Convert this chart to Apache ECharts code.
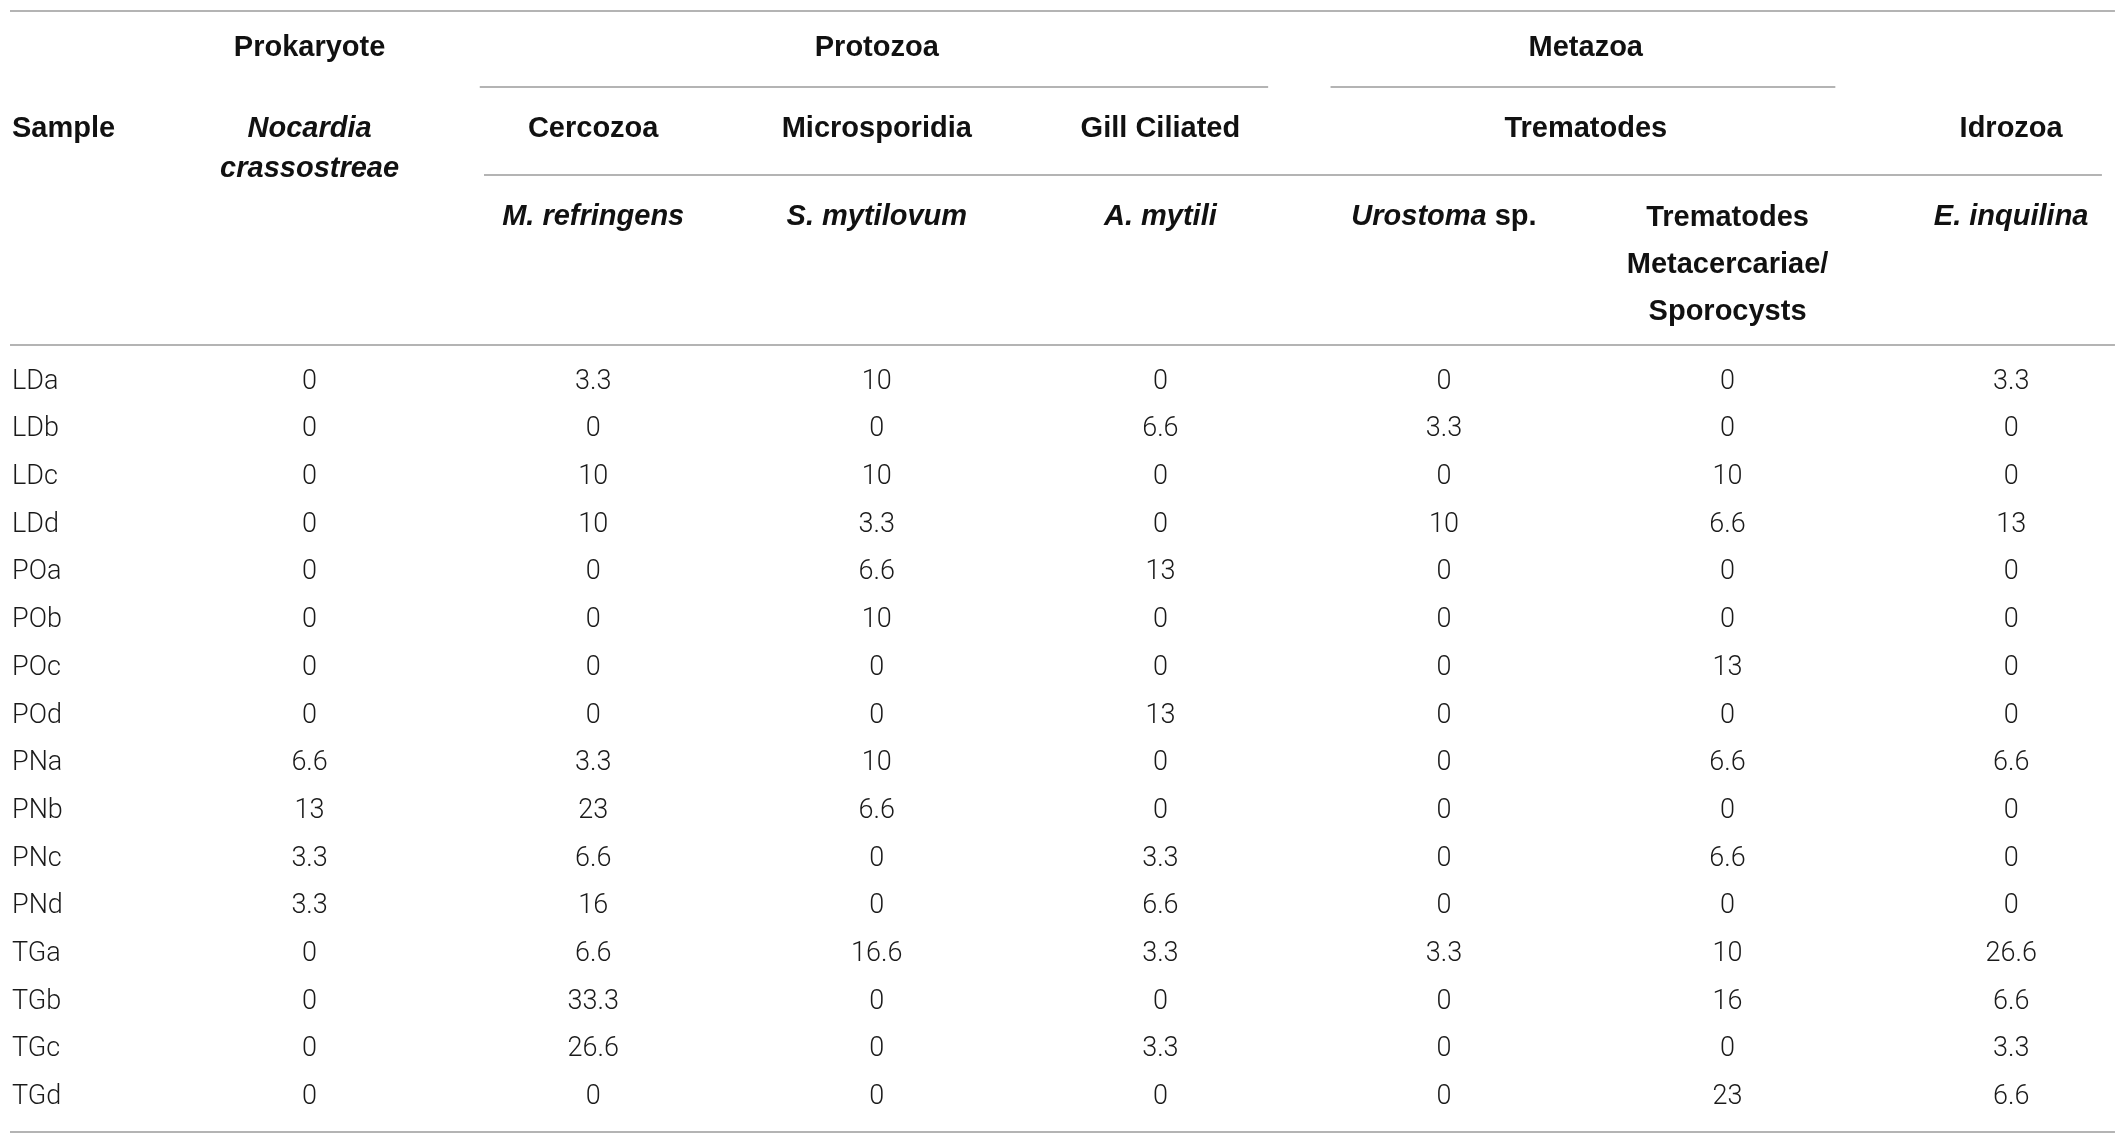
<!DOCTYPE html>
<html>
<head>
<meta charset="utf-8">
<title>Parasite prevalence by sample</title>
<script src="https://cdn.jsdelivr.net/npm/echarts@6/dist/echarts.min.js"></script>
<style>
  html, body { margin: 0; padding: 0; background: #fff; }
  #chart { width: 2128px; height: 1138px; }
</style>
</head>
<body>
<div id="chart"></div>
<script>
// Sample codes (row names)
const SAMPLES = ['LDa', 'LDb', 'LDc', 'LDd', 'POa', 'POb', 'POc', 'POd',
                 'PNa', 'PNb', 'PNc', 'PNd', 'TGa', 'TGb', 'TGc', 'TGd'];

// Prevalence values per species column (same order as SAMPLES)
const NOCARDIA      = [0, 0, 0, 0, 0, 0, 0, 0, 6.6, 13, 3.3, 3.3, 0, 0, 0, 0];
const M_REFRINGENS  = [3.3, 0, 10, 10, 0, 0, 0, 0, 3.3, 23, 6.6, 16, 6.6, 33.3, 26.6, 0];
const S_MYTILOVUM   = [10, 0, 10, 3.3, 6.6, 10, 0, 0, 10, 6.6, 0, 0, 16.6, 0, 0, 0];
const A_MYTILI      = [0, 6.6, 0, 0, 13, 0, 0, 13, 0, 0, 3.3, 6.6, 3.3, 0, 3.3, 0];
const UROSTOMA      = [0, 3.3, 0, 10, 0, 0, 0, 0, 0, 0, 0, 0, 3.3, 0, 0, 0];
const TREM_META     = [0, 0, 10, 6.6, 0, 0, 13, 0, 6.6, 0, 6.6, 0, 10, 16, 0, 23];
const E_INQUILINA   = [3.3, 0, 0, 13, 0, 0, 0, 0, 6.6, 0, 0, 0, 26.6, 6.6, 3.3, 6.6];

const COLUMN_VALUES = [NOCARDIA, M_REFRINGENS, S_MYTILOVUM, A_MYTILI, UROSTOMA, TREM_META, E_INQUILINA];

// Header texts (rich-text markup: b = bold, bi = bold italic)
const GROUP_HEADERS = [
  { text: '{b|Prokaryote}', from: 0, to: 0, rule: false },
  { text: '{b|Protozoa}',   from: 1, to: 3, rule: true },
  { text: '{b|Metazoa}',    from: 4, to: 5, rule: true },
];
const SUB_HEADERS = [
  { text: '{b|Cercozoa}',      from: 1, to: 1 },
  { text: '{b|Microsporidia}', from: 2, to: 2 },
  { text: '{b|Gill Ciliated}', from: 3, to: 3 },
  { text: '{b|Trematodes}',    from: 4, to: 5 },
  { text: '{b|Idrozoa}',       from: 6, to: 6 },
];
const SPECIES_HEADERS = [
  '{bi|M. refringens}', '{bi|S. mytilovum}', '{bi|A. mytili}',
  '{bi|Urostoma}{b| sp.}', '', '{bi|E. inquilina}'
];
const PROKARYOTE_SPECIES = '{bi|Nocardia}\n{bi|crassostreae}';
const TREM_META_HEADER = '{b|Trematodes}\n{b|Metacercariae/}\n{b|Sporocysts}';

// ---- layout (axis units: x = column index, y = body row index) ----
const X_MIN = -1.0917, X_MAX = 6.412;
const Y_MIN = -8.012, Y_MAX = 15.856;
const X_LEFT = -1.0564, X_RIGHT = 6.366;
const Y_RULE_TOP = -7.787, Y_RULE_GROUP = -6.193, Y_RULE_SUB = -4.352,
      Y_RULE_HEAD = -0.776, Y_RULE_BOTTOM = 15.73;
const Y_GROUP = -7.01, Y_SUB = -5.30, Y_SPECIES = -3.46;
const SPAN_IN_L = 0.4, SPAN_IN_R = 0.38;

const HEAD_FONT = "'Liberation Sans', Arial, Helvetica, sans-serif";
const BODY_FONT = "Roboto, 'Liberation Sans', sans-serif";
const HEAD_COLOR = '#111111';
const BODY_COLOR = '#1a1a1a';
const RULE_COLOR = '#b4b4b4';

const RICH = {
  b:  { fontFamily: HEAD_FONT, fontWeight: 'bold', fontSize: 29, color: HEAD_COLOR,
        textBorderWidth: 0 },
  bi: { fontFamily: HEAD_FONT, fontWeight: 'bold', fontStyle: 'italic', fontSize: 29, color: HEAD_COLOR,
        textBorderWidth: 0 },
};
const HEAD_LABEL = {
  show: true, position: 'inside', align: 'center', verticalAlign: 'middle',
  color: HEAD_COLOR, opacity: 1, textBorderWidth: 0, textBorderColor: 'transparent',
};
const TEXT_ONLY = { symbolSize: 0, clip: false, silent: true, itemStyle: { opacity: 1 } };

// header cells
const headCells = [];
GROUP_HEADERS.forEach(g => headCells.push({ value: [(g.from + g.to) / 2, Y_GROUP], text: g.text }));
SUB_HEADERS.forEach(g => headCells.push({ value: [(g.from + g.to) / 2, Y_SUB], text: g.text }));
SPECIES_HEADERS.forEach((t, i) => { if (t) headCells.push({ value: [i + 1, Y_SPECIES], text: t }); });

const multiCells = [
  { value: [0, -4.89], text: PROKARYOTE_SPECIES, lh: 40 },
  { value: [5, -2.46], text: TREM_META_HEADER, lh: 47 },
];

// body cells
const bodyCells = [];
COLUMN_VALUES.forEach((col, c) => {
  col.forEach((v, r) => bodyCells.push([c, r, v]));
});

// horizontal rules
const rules = [
  [X_LEFT, X_RIGHT, Y_RULE_TOP],
  [1 - SPAN_IN_L + 0.015, 6.32, Y_RULE_SUB],
  [X_LEFT, X_RIGHT, Y_RULE_HEAD],
  [X_LEFT, X_RIGHT, Y_RULE_BOTTOM],
];
GROUP_HEADERS.filter(g => g.rule).forEach(g => {
  rules.push([g.from - SPAN_IN_L, g.to + SPAN_IN_R, Y_RULE_GROUP]);
});

const chart = echarts.init(document.getElementById('chart'), null, { renderer: 'canvas' });

chart.setOption({
  animation: false,
  backgroundColor: '#ffffff',
  grid: { left: 0, right: 0, top: 0, bottom: 0 },
  xAxis: { type: 'value', min: X_MIN, max: X_MAX, show: false },
  yAxis: { type: 'value', min: Y_MIN, max: Y_MAX, inverse: true, show: false },
  series: [
    {
      type: 'lines',
      coordinateSystem: 'cartesian2d',
      silent: true,
      lineStyle: { color: RULE_COLOR, width: 2, opacity: 1 },
      data: rules.map(r => ({ coords: [[r[0], r[2]], [r[1], r[2]]] })),
    },
    Object.assign({
      type: 'scatter',
      data: headCells.map(h => ({
        value: h.value,
        label: { formatter: h.text },
      })),
      label: Object.assign({}, HEAD_LABEL, { rich: RICH }),
    }, TEXT_ONLY),
    Object.assign({
      type: 'scatter',
      data: multiCells.map(h => ({
        value: h.value,
        label: {
          formatter: h.text,
          rich: {
            b:  Object.assign({}, RICH.b,  { lineHeight: h.lh }),
            bi: Object.assign({}, RICH.bi, { lineHeight: h.lh }),
          },
        },
      })),
      label: HEAD_LABEL,
    }, TEXT_ONLY),
    Object.assign({
      // "Sample" header + row names, left aligned
      type: 'scatter',
      data: [{ value: [X_LEFT, Y_SUB], label: { formatter: '{b|Sample}', rich: RICH } }]
        .concat(SAMPLES.map((s, r) => ({ value: [X_LEFT, r], label: { formatter: s } }))),
      label: {
        show: true, position: 'right', distance: 2, opacity: 1,
        fontFamily: BODY_FONT, fontWeight: 300, fontSize: 27, color: BODY_COLOR,
        textBorderWidth: 0,
      },
    }, TEXT_ONLY),
    Object.assign({
      type: 'scatter',
      data: bodyCells,
      label: {
        show: true, position: 'inside', align: 'center', verticalAlign: 'middle', opacity: 1,
        fontFamily: BODY_FONT, fontWeight: 300, fontSize: 27, color: BODY_COLOR,
        textBorderWidth: 0, textBorderColor: 'transparent',
        formatter: p => String(p.value[2]),
      },
    }, TEXT_ONLY),
  ],
});
</script>
</body>
</html>
